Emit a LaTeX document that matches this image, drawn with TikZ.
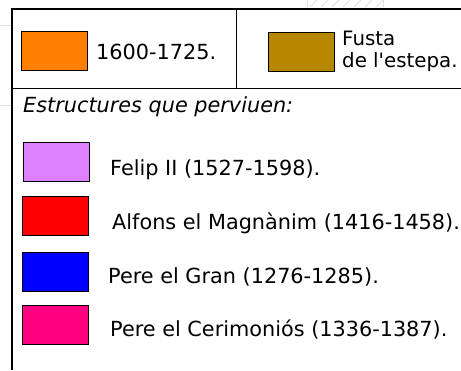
\documentclass[tikz,border=0pt]{standalone}
\usepackage{fontspec}
\setmainfont{DejaVu Sans}
\begin{document}
\begin{tikzpicture}[x=1pt,y=-1pt,
  swatch/.style={draw=black,line width=1.3pt,minimum width=66pt,minimum height=39pt,inner sep=0pt,anchor=north west},
  lbl/.style={anchor=base west,inner sep=0pt,font=\fontsize{20.8}{24}\selectfont},
  faint/.style={draw=black!12,line width=0.8pt}]
\useasboundingbox (0,0) rectangle (461,370);
\fill[white] (0,0) rectangle (461,370);
% faint background
\draw[faint] (0,25.5) -- (12,25.5);
\draw[faint] (0,105) -- (12,105);
\draw[faint] (307,0) -- (307,7) (383,0) -- (383,7);
\foreach \i in {0,...,6} {\draw[faint] ({310+\i*11},7) -- ({317+\i*11},0);}
% frame
\draw[line width=2pt] (12,370) -- (12,9) -- (461,9);
\draw[line width=1pt] (236,9) -- (236,88);
\draw[line width=1pt] (12,88) -- (461,88);
% swatches
\node[swatch,fill={rgb,255:red,255;green,128;blue,0}] (s1) at (21,31) {};
\node[lbl] (t1) at (96,59) {1600-1725.};
\node[swatch,fill={rgb,255:red,184;green,135;blue,0}] (s2) at (268,32) {};
\node[lbl,font=\fontsize{19.8}{24}\selectfont] (t2a) at (342,45) {Fusta};
\node[lbl,font=\fontsize{19.8}{24}\selectfont] (t2b) at (342,67) {de l\textquotesingle estepa.};
\node[lbl,font=\fontsize{20.8}{24}\selectfont\itshape] (hd) at (23,112) {Estructures que perviuen:};
\node[swatch,fill={rgb,255:red,221;green,128;blue,255}] (s3) at (23,142) {};
\node[lbl] (t3) at (110,175) {Felip II (1527-1598).};
\node[swatch,fill={rgb,255:red,255;green,0;blue,0}] (s4) at (22,196) {};
\node[lbl] (t4) at (112,229) {Alfons el Magnànim (1416-1458).};
\node[swatch,fill={rgb,255:red,0;green,0;blue,255}] (s5) at (22,252) {};
\node[lbl] (t5) at (108,283) {Pere el Gran (1276-1285).};
\node[swatch,fill={rgb,255:red,255;green,0;blue,128}] (s6) at (22,305) {};
\node[lbl] (t6) at (110,336) {Pere el Cerimoniós (1336-1387).};
\end{tikzpicture}
\end{document}
